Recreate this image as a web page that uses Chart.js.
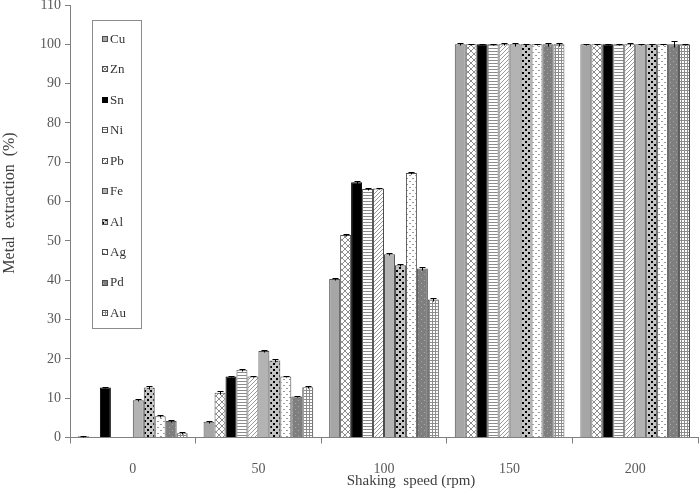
<!DOCTYPE html>
<html>
<head>
<meta charset="utf-8">
<script src="https://cdn.jsdelivr.net/npm/chart.js@4/dist/chart.umd.min.js"></script>
<style>
html,body{margin:0;padding:0;background:#fff;}
#wrap{width:700px;height:490px;position:relative;}
</style>
</head>
<body>
<div id="wrap"><canvas id="c" width="700" height="490"></canvas></div>
<script>
const categories = ['0', '50', '100', '150', '200'];
const metals = ['Cu', 'Zn', 'Sn', 'Ni', 'Pb', 'Fe', 'Al', 'Ag', 'Pd', 'Au'];
const cuValues = [0.3, 4.0, 40.3, 100, 100];
const znValues = [0, 11.4, 51.5, 100, 100];
const snValues = [12.7, 15.5, 64.9, 100, 100];
const niValues = [0, 17.2, 63.2, 100, 100];
const pbValues = [0, 15.5, 63.3, 100, 100];
const feValues = [9.5, 22.0, 46.6, 100, 100];
const alValues = [12.7, 19.6, 43.8, 100, 100];
const agValues = [5.4, 15.5, 67.3, 100, 100];
const pdValues = [4.2, 10.4, 43.0, 100, 100];
const auValues = [1.1, 12.8, 35.1, 100, 100];
const cuErr = [0.1, 0.3, 0.2, 0.3, 0.2];
const znErr = [0, 0.3, 0.3, 0.2, 0.2];
const snErr = [0.2, 0.2, 0.3, 0.2, 0.2];
const niErr = [0, 0.3, 0.2, 0.2, 0.2];
const pbErr = [0, 0.2, 0.2, 0.3, 0.4];
const feErr = [0.2, 0.3, 0.3, 0.4, 0.2];
const alErr = [0.3, 0.4, 0.3, 0.2, 0.2];
const agErr = [0.2, 0.2, 0.3, 0.2, 0.2];
const pdErr = [0.2, 0.2, 0.3, 0.4, 0.8];
const auErr = [0.2, 0.3, 0.3, 0.4, 0.2];
const yTicks = [0, 10, 20, 30, 40, 50, 60, 70, 80, 90, 100, 110];

function makePattern(size, bg, draw) {
  const c = document.createElement('canvas');
  c.width = size; c.height = size;
  const x = c.getContext('2d');
  x.fillStyle = bg; x.fillRect(0, 0, size, size);
  draw(x, size);
  return x.createPattern(c, 'repeat');
}
const fills = {
  Cu: '#a6a6a6',
  Zn: makePattern(6, '#ffffff', (x, s) => {
    x.strokeStyle = '#808080'; x.lineWidth = 0.9;
    x.beginPath(); x.moveTo(0, 0); x.lineTo(s, s); x.moveTo(-1, s - 1); x.lineTo(1, s + 1); x.moveTo(s - 1, -1); x.lineTo(s + 1, 1);
    x.moveTo(s, 0); x.lineTo(0, s); x.moveTo(-1, 1); x.lineTo(1, -1); x.moveTo(s - 1, s + 1); x.lineTo(s + 1, s - 1); x.stroke();
  }),
  Sn: '#000000',
  Ni: makePattern(3, '#ffffff', (x, s) => { x.fillStyle = '#8c8c8c'; x.fillRect(0, 0, s, 1); }),
  Pb: makePattern(4, '#ffffff', (x, s) => {
    x.strokeStyle = '#9a9a9a'; x.lineWidth = 1;
    x.beginPath(); x.moveTo(0, s); x.lineTo(s, 0); x.moveTo(-1, 1); x.lineTo(1, -1); x.moveTo(s - 1, s + 1); x.lineTo(s + 1, s - 1); x.stroke();
  }),
  Fe: '#b3b3b3',
  Al: makePattern(6, '#c4c4c4', (x, s) => { x.fillStyle = '#000'; x.fillRect(0, 0, 2, 2); x.fillRect(3, 3, 2, 2); }),
  Ag: makePattern(6, '#ffffff', (x, s) => { x.fillStyle = '#9a9a9a'; x.fillRect(1, 1, 2, 1); x.fillRect(4, 4, 2, 1); }),
  Pd: makePattern(6, '#7f7f7f', (x, s) => { x.fillStyle = '#a8a8a8'; x.fillRect(1, 1, 1, 1); x.fillRect(4, 4, 1, 1); }),
  Au: makePattern(3, '#ffffff', (x, s) => { x.fillStyle = '#8c8c8c'; x.fillRect(0, 0, s, 1); x.fillRect(0, 0, 1, s); })
};
const seriesValues = [cuValues, znValues, snValues, niValues, pbValues, feValues, alValues, agValues, pdValues, auValues];
const seriesErr = [cuErr, znErr, snErr, niErr, pbErr, feErr, alErr, agErr, pdErr, auErr];

const datasets = metals.map((m, i) => ({
  label: m,
  data: seriesValues[i],
  errors: seriesErr[i],
  backgroundColor: fills[m],
  borderColor: m === 'Sn' ? '#000' : '#4d4d4d',
  borderWidth: 1,
  categoryPercentage: 0.873,
  barPercentage: 1.0
}));

const SERIF = "'Liberation Serif', 'Times New Roman', serif";

const errorBars = {
  id: 'errorBars',
  afterDatasetsDraw(chart) {
    const c = chart.ctx, ys = chart.scales.y;
    c.save();
    c.strokeStyle = '#000'; c.lineWidth = 1;
    chart.data.datasets.forEach((ds, di) => {
      const meta = chart.getDatasetMeta(di);
      meta.data.forEach((bar, i) => {
        const v = ds.data[i], e = ds.errors[i];
        if (!e || !v) return;
        const yTop = Math.round(ys.getPixelForValue(v + e)) + 0.5;
        const yBot = Math.round(ys.getPixelForValue(v - e)) + 0.5;
        const cx = Math.round(bar.x) + 0.5;
        c.beginPath();
        c.moveTo(cx, yTop); c.lineTo(cx, yBot);
        c.moveTo(cx - 3, yTop); c.lineTo(cx + 3, yTop);
        c.stroke();
      });
    });
    c.restore();
  }
};

const customLegend = {
  id: 'customLegend',
  afterDraw(chart) {
    const c = chart.ctx;
    c.save();
    c.strokeStyle = '#8c8c8c'; c.lineWidth = 1;
    c.fillStyle = '#fff';
    c.fillRect(92.5, 20.5, 49, 308);
    c.strokeRect(92.5, 20.5, 49, 308);
    c.font = '13px ' + SERIF;
    c.textBaseline = 'middle';
    chart.data.datasets.forEach((ds, i) => {
      const yc = 39 + i * 30.44;
      c.fillStyle = ds.backgroundColor;
      c.fillRect(102, Math.round(yc - 3), 6, 6);
      c.strokeStyle = ds.borderColor;
      c.strokeRect(102.5, Math.round(yc - 3) + 0.5, 5, 5);
      c.fillStyle = '#333';
      c.fillText(ds.label, 110, yc + 0.5);
    });
    c.restore();
  }
};

const axisTitles = {
  id: 'axisTitles',
  afterDraw(chart) {
    const c = chart.ctx;
    c.save();
    c.fillStyle = '#404040';
    c.font = '15px ' + SERIF;
    c.textAlign = 'center';
    c.textBaseline = 'middle';
    c.fillText('Shaking  speed (rpm)', 411, 481);
    c.font = '16px ' + SERIF;
    c.translate(10, 203);
    c.rotate(-Math.PI / 2);
    c.fillText('Metal  extraction  (%)', 0, 0);
    c.restore();
  }
};

new Chart(document.getElementById('c'), {
  type: 'bar',
  data: { labels: categories, datasets },
  options: {
    responsive: false,
    animation: false,
    layout: { padding: { left: 0, right: 2, top: 5, bottom: 0 } },
    plugins: { legend: { display: false }, tooltip: { enabled: false } },
    scales: {
      x: {
        grid: { offset: true, drawOnChartArea: false, drawTicks: true, tickLength: 6, color: '#808080' },
        border: { color: '#808080', width: 1 },
        ticks: { font: { family: SERIF, size: 14 }, color: '#595959', padding: 17 },
        afterFit: s => { s.height = 52.5; }
      },
      y: {
        min: 0, max: 110,
        afterBuildTicks: s => { s.ticks = yTicks.map(v => ({ value: v })); },
        grid: { drawOnChartArea: false, drawTicks: true, tickLength: 5, color: '#808080' },
        border: { color: '#808080', width: 1 },
        ticks: { font: { family: SERIF, size: 14 }, color: '#595959', padding: 4 },
        afterFit: s => { s.width = 70; s.paddingTop = 0; s.paddingBottom = 0; }
      }
    }
  },
  plugins: [errorBars, customLegend, axisTitles]
});
</script>
</body>
</html>
